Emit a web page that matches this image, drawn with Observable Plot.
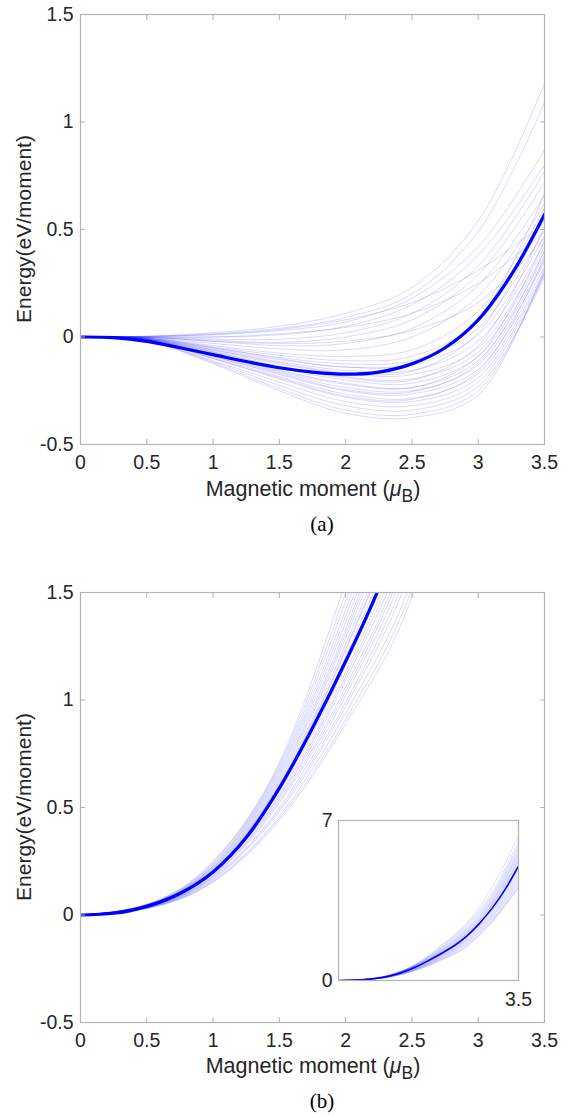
<!DOCTYPE html>
<html>
<head>
<meta charset="utf-8">
<script src="https://cdn.jsdelivr.net/npm/d3@7"></script>
<script src="https://cdn.jsdelivr.net/npm/@observablehq/plot@0.6"></script>
<style>
  body { margin: 0; background: #fff; }
  #wrap { position: relative; width: 574px; height: 1116px; background: #fff; overflow: hidden; }
  .holder { position: absolute; }
</style>
</head>
<body>
<div id="wrap"></div>
<script>
// ---------------- DATA ----------------
const xTicks = [0, 0.5, 1, 1.5, 2, 2.5, 3, 3.5];
const yTicks = [-0.5, 0, 0.5, 1, 1.5];
const insetYTicks = [0, 7];
const insetXTicks = [3.5];

// fine grid for the highlighted (thick) curves, coarse grid for the thin ones
const xFine = [0, 0.25, 0.5, 0.75, 1, 1.25, 1.5, 1.75, 2, 2.25, 2.5, 2.75, 3, 3.25, 3.5];
const xCoarse = [0, 0.5, 1, 1.5, 2, 2.5, 3, 3.5];

// panel (a): thick curve
const thickA = [0, -0.003, -0.02, -0.05, -0.082, -0.114, -0.143, -0.163, -0.173, -0.163, -0.125, -0.05, 0.08, 0.29, 0.57];
// panel (a): thin curves (values at xCoarse)
const thinA = [
  [0, 0.004, 0.02, 0.05, 0.11, 0.23, 0.54, 1.18],
  [0, 0.003, 0.015, 0.04, 0.09, 0.20, 0.49, 1.09],
  [0, 0.002, 0.01, 0.03, 0.07, 0.18, 0.42, 0.87],
  [0, 0.001, 0.00, 0.01, 0.05, 0.15, 0.38, 0.80],
  [0, 0.000, -0.01, -0.01, 0.02, 0.11, 0.33, 0.77],
  [0, -0.001, -0.015, -0.025, 0.00, 0.08, 0.29, 0.72],
  [0, -0.002, -0.02, -0.04, -0.03, 0.04, 0.24, 0.66],
  [0, -0.003, -0.03, -0.055, -0.06, 0.00, 0.19, 0.62],
  [0, 0.002, 0.012, 0.035, 0.08, 0.16, 0.31, 0.53],
  [0, 0.000, 0.00, 0.015, 0.045, 0.11, 0.25, 0.49],
  [0, -0.002, -0.02, -0.03, -0.02, 0.03, 0.16, 0.46],
  [0, -0.004, -0.04, -0.075, -0.09, -0.06, 0.12, 0.60],
  [0, -0.005, -0.045, -0.085, -0.11, -0.09, 0.07, 0.55],
  [0, -0.006, -0.05, -0.095, -0.125, -0.11, 0.04, 0.50],
  [0, -0.007, -0.055, -0.105, -0.14, -0.13, 0.01, 0.47],
  [0, -0.008, -0.06, -0.115, -0.155, -0.155, -0.02, 0.44],
  [0, -0.009, -0.065, -0.125, -0.17, -0.175, -0.05, 0.42],
  [0, -0.010, -0.07, -0.135, -0.185, -0.195, -0.07, 0.40],
  [0, -0.010, -0.075, -0.145, -0.20, -0.215, -0.09, 0.38],
  [0, -0.011, -0.08, -0.155, -0.215, -0.235, -0.11, 0.36],
  [0, -0.012, -0.085, -0.165, -0.235, -0.25, -0.13, 0.35],
  [0, -0.013, -0.09, -0.175, -0.25, -0.265, -0.15, 0.33],
  [0, -0.013, -0.095, -0.185, -0.265, -0.285, -0.17, 0.31],
  [0, -0.014, -0.10, -0.195, -0.28, -0.30, -0.19, 0.30],
  [0, -0.015, -0.11, -0.21, -0.30, -0.32, -0.21, 0.29],
  [0, -0.016, -0.115, -0.225, -0.32, -0.34, -0.23, 0.28],
  [0, -0.017, -0.12, -0.24, -0.34, -0.36, -0.25, 0.30],
  [0, -0.018, -0.125, -0.25, -0.355, -0.375, -0.27, 0.32],
  [0, -0.006, -0.05, -0.10, -0.14, -0.12, 0.08, 0.67],
  [0, -0.008, -0.06, -0.12, -0.165, -0.16, 0.02, 0.58],
  [0, -0.010, -0.07, -0.14, -0.19, -0.20, -0.04, 0.52],
  [0, -0.011, -0.08, -0.16, -0.22, -0.235, -0.09, 0.45],
  [0, -0.012, -0.09, -0.17, -0.245, -0.255, -0.12, 0.40],
  [0, -0.014, -0.10, -0.19, -0.275, -0.29, -0.16, 0.37]
];

// panel (b): thick curve
const thickB = [0, 0.008, 0.04, 0.1, 0.2, 0.36, 0.59, 0.87, 1.18, 1.52, 1.95, 2.52, 3.2, 4.02, 5.0];
// panel (b): thin curves (values at xCoarse)
const thinB = [
  [0, 0.05, 0.25, 0.71, 1.55, 2.55, 4.13, 6.35],
  [0, 0.049, 0.245, 0.70, 1.50, 2.48, 3.93, 6.10],
  [0, 0.048, 0.24, 0.69, 1.46, 2.42, 3.83, 5.95],
  [0, 0.047, 0.235, 0.68, 1.42, 2.36, 3.75, 5.85],
  [0, 0.047, 0.23, 0.67, 1.39, 2.31, 3.68, 5.75],
  [0, 0.046, 0.228, 0.66, 1.36, 2.25, 3.61, 5.65],
  [0, 0.045, 0.224, 0.65, 1.33, 2.22, 3.55, 5.55],
  [0, 0.045, 0.22, 0.64, 1.31, 2.18, 3.51, 5.50],
  [0, 0.044, 0.218, 0.63, 1.29, 2.14, 3.45, 5.40],
  [0, 0.043, 0.214, 0.62, 1.26, 2.10, 3.39, 5.30],
  [0, 0.042, 0.21, 0.61, 1.24, 2.06, 3.36, 5.25],
  [0, 0.042, 0.208, 0.605, 1.23, 2.05, 3.33, 5.20],
  [0, 0.041, 0.205, 0.60, 1.20, 2.01, 3.26, 5.10],
  [0, 0.040, 0.202, 0.59, 1.18, 1.97, 3.23, 5.05],
  [0, 0.040, 0.198, 0.575, 1.16, 1.93, 3.17, 4.95],
  [0, 0.039, 0.194, 0.56, 1.13, 1.89, 3.10, 4.85],
  [0, 0.038, 0.19, 0.55, 1.11, 1.85, 3.06, 4.78],
  [0, 0.037, 0.186, 0.54, 1.09, 1.81, 2.99, 4.68],
  [0, 0.036, 0.182, 0.53, 1.06, 1.77, 2.94, 4.60],
  [0, 0.036, 0.178, 0.52, 1.04, 1.74, 2.88, 4.50],
  [0, 0.035, 0.174, 0.50, 1.02, 1.70, 2.83, 4.42],
  [0, 0.034, 0.17, 0.49, 0.99, 1.66, 2.78, 4.35],
  [0, 0.033, 0.166, 0.48, 0.97, 1.62, 2.72, 4.25],
  [0, 0.032, 0.16, 0.46, 0.94, 1.56, 2.66, 4.15],
  [0, 0.031, 0.156, 0.45, 0.91, 1.52, 2.62, 4.10],
  [0, 0.030, 0.152, 0.44, 0.89, 1.48, 2.59, 4.05]
];

const yLabel = "Energy(eV/moment)";
const xLabelMain = "Magnetic moment (";
const xLabelMu = "μ";
const xLabelSub = "B";
const captions = ["(a)", "(b)"];

// ---------------- STYLE ----------------
const SANS = '"Liberation Sans", Arial, Helvetica, sans-serif';
const SERIF = '"Liberation Serif", "Times New Roman", serif';
const GRAY = "#b3b3b3";
const INK = "#262626";
const BLUE = "#0000ff";

const tidy = (xs, rows) => rows.flatMap((r, i) => r.map((y, j) => ({id: i, x: xs[j], y})));
const single = (xs, ys) => ys.map((y, j) => ({x: xs[j], y}));

function mainPanel({thin, thick, curve, height, marginTop, marginBottom}) {
  return Plot.plot({
    width: 574, height, marginLeft: 80, marginRight: 30, marginTop, marginBottom,
    style: {fontFamily: SANS, fontSize: "19px", background: "transparent", color: INK, overflow: "visible"},
    x: {domain: [0, 3.5], label: null},
    y: {domain: [-0.5, 1.5], label: null},
    marks: [
      Plot.line(tidy(xCoarse, thin), {x: "x", y: "y", z: "id", stroke: BLUE, strokeOpacity: 0.17, strokeWidth: 0.9, curve, clip: true}),
      Plot.line(single(xFine, thick), {x: "x", y: "y", stroke: BLUE, strokeWidth: 3.2, curve, clip: true}),
      Plot.frame({stroke: GRAY, strokeWidth: 1.2}),
      Plot.axisX(xTicks, {anchor: "bottom", tickSize: -5, stroke: GRAY, tickFormat: () => "", label: null}),
      Plot.axisX(xTicks, {anchor: "top", tickSize: -5, stroke: GRAY, tickFormat: () => "", label: null}),
      Plot.axisY(yTicks, {anchor: "left", tickSize: -5, stroke: GRAY, tickFormat: () => "", label: null}),
      Plot.axisY(yTicks, {anchor: "right", tickSize: -5, stroke: GRAY, tickFormat: () => "", label: null}),
      Plot.axisX(xTicks, {anchor: "bottom", tickSize: 0, tickPadding: 11, tickFormat: d => String(d), fill: INK, fontSize: 19.5, label: null}),
      Plot.axisY(yTicks, {anchor: "left", tickSize: 0, tickPadding: 7, tickFormat: d => String(d), fill: INK, fontSize: 19.5, label: null})
    ]
  });
}

function addLabels(svg, {yCenter, xBase, capBase, cap}) {
  const s = d3.select(svg);
  s.append("text")
    .attr("transform", `translate(31,${yCenter}) rotate(-90)`)
    .attr("text-anchor", "middle")
    .attr("font-family", SANS).attr("font-size", 21).attr("fill", INK)
    .text(yLabel);
  const t = s.append("text")
    .attr("x", 313).attr("y", xBase)
    .attr("text-anchor", "middle")
    .attr("font-family", SANS).attr("font-size", 21.5).attr("fill", INK);
  t.append("tspan").text(xLabelMain);
  t.append("tspan").attr("font-style", "italic").text(xLabelMu);
  t.append("tspan").attr("font-size", 17.5).attr("dy", 6).text(xLabelSub);
  t.append("tspan").attr("dy", -6).text(")");
  s.append("text")
    .attr("x", 322).attr("y", capBase)
    .attr("text-anchor", "middle")
    .attr("font-family", SERIF).attr("font-size", 21).attr("fill", "#000")
    .text(cap);
}

const wrap = document.getElementById("wrap");
function place(node, left, top) {
  const d = document.createElement("div");
  d.className = "holder";
  d.style.left = left + "px";
  d.style.top = top + "px";
  d.appendChild(node);
  wrap.appendChild(d);
}

// panel (a)
const plotA = mainPanel({thin: thinA, thick: thickA, curve: "catmull-rom", height: 540, marginTop: 14, marginBottom: 96});
addLabels(plotA, {yCenter: 229, xBase: 496, capBase: 531, cap: captions[0]});
place(plotA, 0, 0);

// panel (b)
const plotB = mainPanel({thin: thinB, thick: thickB, curve: "monotone-x", height: 576, marginTop: 52, marginBottom: 94});
addLabels(plotB, {yCenter: 267, xBase: 533, capBase: 568, cap: captions[1]});
place(plotB, 0, 540);

// inset of panel (b)
const inset = Plot.plot({
  width: 260, height: 220, marginLeft: 50, marginRight: 30, marginTop: 20, marginBottom: 40,
  style: {fontFamily: SANS, fontSize: "19px", background: "transparent", color: INK, overflow: "visible"},
  x: {domain: [0, 3.5], label: null},
  y: {domain: [0, 7], label: null},
  marks: [
    Plot.line(tidy(xCoarse, thinB), {x: "x", y: "y", z: "id", stroke: BLUE, strokeOpacity: 0.17, strokeWidth: 0.7, curve: "monotone-x", clip: true}),
    Plot.line(single(xFine, thickB), {x: "x", y: "y", stroke: BLUE, strokeWidth: 1.6, curve: "monotone-x", clip: true}),
    Plot.frame({stroke: GRAY, strokeWidth: 1.2}),
    Plot.axisX(insetXTicks, {anchor: "bottom", tickSize: 0, tickPadding: 12, tickFormat: d => String(d), fill: INK, fontSize: 19.5, label: null}),
    Plot.axisY(insetYTicks, {anchor: "left", tickSize: 0, tickPadding: 6, tickFormat: d => String(d), fill: INK, fontSize: 19.5, label: null})
  ]
});
place(inset, 288, 800);
</script>
</body>
</html>
